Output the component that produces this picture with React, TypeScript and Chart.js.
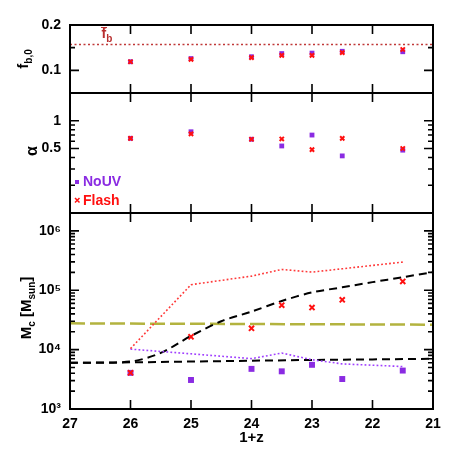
import { useEffect, useRef } from 'react';
import { Chart, registerables } from 'chart.js';
Chart.register(...registerables);

// ---- data ----
const redshifts = [26, 25, 24, 23.5, 23, 22.5, 21.5];
const fbNoUV = [0.119, 0.126, 0.130, 0.137, 0.138, 0.142, 0.141];
const fbFlash = [0.119, 0.124, 0.128, 0.133, 0.133, 0.139, 0.146];
const fbCosmicZ = [27, 21];
const fbCosmic = [0.157, 0.157];
const alphaNoUV = [0.645, 0.76, 0.63, 0.533, 0.70, 0.416, 0.48];
const alphaFlash = [0.645, 0.72, 0.63, 0.635, 0.487, 0.645, 0.50];
const mcNoUV = [4060, 3080, 4740, 4310, 5550, 3200, 4440];
const mcFlash = [4060, 16400, 22800, 56000, 51000, 69000, 141000];
const flashUpperM = [10400, 124000, 173000, 224000, 202000, 230000, 298000];
const noUVUpperM = [10200, 8500, 7050, 8750, 6760, 5750, 5190];
const jeansZ = [27, 26, 25.5, 25, 24.5, 24, 23.5, 23, 22.5, 22, 21.5, 21];
const jeansM = [6000, 6300, 8800, 17000, 30000, 43700, 66000, 92000, 112000, 137000, 166000, 202000];
const floorZ = [27, 26, 25, 24, 23, 22, 21];
const floorM = [6000, 6100, 6300, 6500, 6700, 6850, 7000];
const oliveZ = [27, 21];
const oliveM = [27700, 26300];
const xTicks = [27, 26, 25, 24, 23, 22, 21];
const fbTicks = [0.1, 0.2];
const alphaTicks = [0.5, 1];
const mcTicks = [1e3, 1e4, 1e5, 1e6];
const supDigits: Record<string, string> = { '3': '³', '4': '⁴', '5': '⁵', '6': '⁶' };

const PURPLE = '#8a2be2';
const RED = '#ff1010';
const FONT = '"Liberation Sans", Arial, sans-serif';

const pts = (xs: number[], ys: number[]) => xs.map((x, i) => ({ x, y: ys[i] }));

type Seg = { t: string; s: number; dy?: number };
function drawRich(ctx: CanvasRenderingContext2D, segs: Seg[], cx: number, cy: number, rotate: boolean, color: string) {
  ctx.save();
  ctx.translate(cx, cy);
  if (rotate) ctx.rotate(-Math.PI / 2);
  ctx.fillStyle = color;
  ctx.textBaseline = 'alphabetic';
  ctx.textAlign = 'left';
  let w = 0;
  for (const g of segs) {
    ctx.font = `bold ${g.s}px ${FONT}`;
    w += ctx.measureText(g.t).width;
  }
  let x = -w / 2;
  for (const g of segs) {
    ctx.font = `bold ${g.s}px ${FONT}`;
    ctx.fillText(g.t, x, 5.5 + (g.dy || 0));
    x += ctx.measureText(g.t).width;
  }
  ctx.restore();
}

function logMinors(min: number, max: number) {
  const out: number[] = [];
  for (let e = Math.floor(Math.log10(min)) - 1; e <= Math.ceil(Math.log10(max)); e++) {
    for (let m = 1; m <= 9; m++) {
      const v = m * Math.pow(10, e);
      if (v > min * 1.0001 && v < max * 0.9999) out.push(v);
    }
  }
  return out;
}

const framePlugin = {
  id: 'frame',
  afterDraw(chart: any) {
    const ctx: CanvasRenderingContext2D = chart.ctx;
    const { left, right, top, bottom } = chart.chartArea;
    const xs = chart.scales.x;
    const panels = ['yf', 'ya', 'ym'].map((id) => chart.scales[id]);
    ctx.save();
    ctx.strokeStyle = '#000';
    ctx.lineWidth = 2;
    ctx.strokeRect(left, top, right - left, bottom - top);
    ctx.beginPath();
    ctx.moveTo(left, panels[0].bottom);
    ctx.lineTo(right, panels[0].bottom);
    ctx.moveTo(left, panels[1].bottom);
    ctx.lineTo(right, panels[1].bottom);
    ctx.stroke();
    ctx.lineWidth = 1.6;
    ctx.beginPath();
    // x ticks
    for (const v of xTicks) {
      const px = xs.getPixelForValue(v);
      for (const s of panels) {
        ctx.moveTo(px, s.top);
        ctx.lineTo(px, s.top + 9);
        ctx.moveTo(px, s.bottom);
        ctx.lineTo(px, s.bottom - 9);
      }
    }
    const yTick = (s: any, v: number, len: number) => {
      const py = s.getPixelForValue(v);
      if (py < s.top - 0.5 || py > s.bottom + 0.5) return;
      ctx.moveTo(left, py);
      ctx.lineTo(left + len, py);
      ctx.moveTo(right, py);
      ctx.lineTo(right - len, py);
    };
    for (const v of fbTicks) yTick(panels[0], v, 9);
    yTick(panels[0], 0.15, 5);
    for (const v of alphaTicks) yTick(panels[1], v, 9);
    for (const v of logMinors(panels[1].min, panels[1].max)) if (!alphaTicks.includes(v)) yTick(panels[1], v, 5);
    for (const v of mcTicks) yTick(panels[2], v, 9);
    for (const v of logMinors(panels[2].min, panels[2].max)) if (!mcTicks.some((t) => Math.abs(t - v) < 1e-6 * t)) yTick(panels[2], v, 5);
    ctx.stroke();

    // axis titles
    drawRich(ctx, [{ t: 'f', s: 15 }, { t: 'b,0', s: 10, dy: 4 }], 22, (panels[0].top + panels[0].bottom) / 2, true, '#000');
    drawRich(ctx, [{ t: 'α', s: 16 }], 31, 151, true, '#000');
    drawRich(ctx, [{ t: 'M', s: 15 }, { t: 'c', s: 10, dy: 4 }, { t: ' [M', s: 15 }, { t: 'sun', s: 10, dy: 4 }, { t: ']', s: 15 }], 25, 308, true, '#000');
    drawRich(ctx, [{ t: '1+z', s: 15 }], (left + right) / 2, 436, false, '#000');

    // f_b label
    const fbc = '#b83030';
    drawRich(ctx, [{ t: 'f', s: 14 }, { t: 'b', s: 10, dy: 4 }], 107, 32.5, false, fbc);
    ctx.strokeStyle = fbc;
    ctx.lineWidth = 1;
    ctx.beginPath();
    ctx.moveTo(101, 27.5);
    ctx.lineTo(107, 27.5);
    ctx.stroke();

    // legend
    ctx.fillStyle = PURPLE;
    ctx.fillRect(75, 180, 4, 4);
    ctx.strokeStyle = RED;
    ctx.lineWidth = 1.5;
    ctx.beginPath();
    ctx.moveTo(75, 198);
    ctx.lineTo(79.5, 202.5);
    ctx.moveTo(79.5, 198);
    ctx.lineTo(75, 202.5);
    ctx.stroke();
    ctx.font = `bold 14px ${FONT}`;
    ctx.textBaseline = 'middle';
    ctx.textAlign = 'left';
    ctx.fillStyle = PURPLE;
    ctx.fillText('NoUV', 83, 182);
    ctx.fillStyle = RED;
    ctx.fillText('Flash', 83, 201);
    ctx.restore();
  },
};

export default function App() {
  const ref = useRef<HTMLCanvasElement>(null);
  useEffect(() => {
    if (!ref.current) return;
    const tickFont = { family: FONT, size: 14, weight: 'bold' as const };
    const hidden = { display: false };
    const yBase = (weight: number) => ({
      position: 'left' as const,
      stack: 'panels',
      stackWeight: weight,
      offset: false,
      grid: { display: false, drawTicks: false },
      border: { display: false },
      afterFit: (s: any) => { s.width = 70; },
    });
    const chart = new Chart(ref.current, {
      type: 'scatter',
      data: {
        datasets: [
          // top panel
          { data: pts(redshifts, fbFlash), yAxisID: 'yf', pointStyle: 'crossRot', pointRadius: 3, borderColor: RED, borderWidth: 2, backgroundColor: RED, order: 0 },
          { data: pts(redshifts, fbNoUV), yAxisID: 'yf', pointStyle: 'rect', pointRadius: 3.4, borderWidth: 0, backgroundColor: PURPLE, order: 1 },
          { data: pts(fbCosmicZ, fbCosmic), yAxisID: 'yf', showLine: true, pointRadius: 0, borderColor: '#c03838', borderWidth: 1.5, borderDash: [2, 2.5], order: 2 },
          // middle panel
          { data: pts(redshifts, alphaFlash), yAxisID: 'ya', pointStyle: 'crossRot', pointRadius: 3, borderColor: RED, borderWidth: 2, backgroundColor: RED, order: 0 },
          { data: pts(redshifts, alphaNoUV), yAxisID: 'ya', pointStyle: 'rect', pointRadius: 3.4, borderWidth: 0, backgroundColor: PURPLE, order: 1 },
          // bottom panel
          { data: pts(redshifts, mcFlash), yAxisID: 'ym', pointStyle: 'crossRot', pointRadius: 3.6, borderColor: RED, borderWidth: 2, backgroundColor: RED, order: 0 },
          { data: pts(redshifts, mcNoUV), yAxisID: 'ym', pointStyle: 'rect', pointRadius: 4.2, borderWidth: 0, backgroundColor: PURPLE, order: 1 },
          { data: pts(redshifts, flashUpperM), yAxisID: 'ym', showLine: true, pointRadius: 0, borderColor: '#ff3838', borderWidth: 1.6, borderDash: [1.8, 2.2], order: 2 },
          { data: pts(redshifts, noUVUpperM), yAxisID: 'ym', showLine: true, pointRadius: 0, borderColor: '#a040ff', borderWidth: 1.6, borderDash: [1.8, 2.2], order: 2 },
          { data: pts(jeansZ, jeansM), yAxisID: 'ym', showLine: true, pointRadius: 0, borderColor: '#000', borderWidth: 2, borderDash: [8, 5], tension: 0.3, order: 3 },
          { data: pts(floorZ, floorM), yAxisID: 'ym', showLine: true, pointRadius: 0, borderColor: '#000', borderWidth: 2, borderDash: [8, 5], order: 3 },
          { data: pts(oliveZ, oliveM), yAxisID: 'ym', showLine: true, pointRadius: 0, borderColor: '#b3b33f', borderWidth: 2.5, borderDash: [15, 5], order: 3 },
        ] as any,
      },
      options: {
        animation: false,
        responsive: false,
        devicePixelRatio: 1,
        layout: { padding: { top: 25, right: 25, left: 0, bottom: 0 } },
        plugins: { legend: hidden, tooltip: { enabled: false }, title: hidden },
        scales: {
          x: {
            type: 'linear',
            position: 'bottom',
            reverse: true,
            min: 21,
            max: 27,
            grid: { display: false, drawTicks: false },
            border: { display: false },
            afterBuildTicks: (s: any) => { s.ticks = xTicks.map((v) => ({ value: v })); },
            ticks: { font: tickFont, color: '#000', padding: 7, autoSkip: false, maxRotation: 0, callback: (v: any) => String(v) },
            afterFit: (s: any) => { s.height = 49; },
          },
          ym: {
            ...yBase(196),
            type: 'logarithmic',
            min: 1000,
            max: 2e6,
            afterBuildTicks: (s: any) => { s.ticks = mcTicks.map((v) => ({ value: v })); },
            ticks: {
              font: tickFont, color: '#000', padding: 9, autoSkip: false,
              callback: (v: any) => '10' + (supDigits[String(Math.round(Math.log10(Number(v))))] || ''),
            },
          },
          ya: {
            ...yBase(120),
            type: 'logarithmic',
            min: 0.1,
            max: 2,
            afterBuildTicks: (s: any) => { s.ticks = alphaTicks.map((v) => ({ value: v })); },
            ticks: { font: tickFont, color: '#000', padding: 9, autoSkip: false, callback: (v: any) => String(v) },
          },
          yf: {
            ...yBase(68),
            type: 'linear',
            min: 0.05,
            max: 0.2,
            afterBuildTicks: (s: any) => { s.ticks = fbTicks.map((v) => ({ value: v })); },
            ticks: { font: tickFont, color: '#000', padding: 9, autoSkip: false, callback: (v: any) => String(v) },
          },
        } as any,
      },
      plugins: [framePlugin],
    });
    return () => chart.destroy();
  }, []);
  return (
    <div style={{ position: 'absolute', left: 0, top: 0, width: 458, height: 458, background: '#fff' }}>
      <canvas ref={ref} width={458} height={458} />
    </div>
  );
}
